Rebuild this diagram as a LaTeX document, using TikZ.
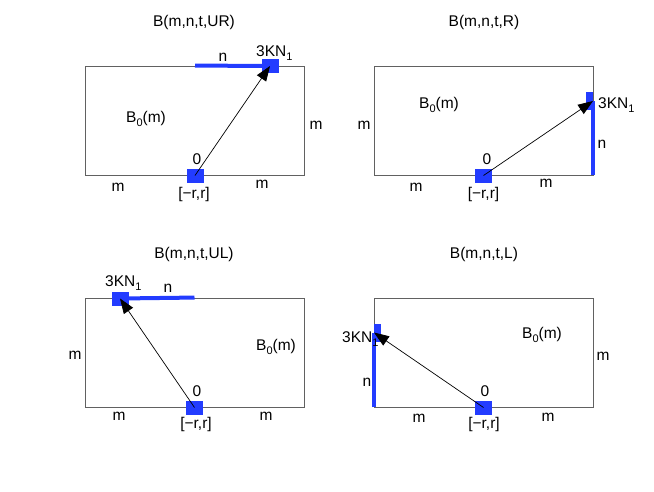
\documentclass[tikz,border=0pt]{standalone}
\usepackage{fontspec}
\setmainfont{Liberation Sans}
\usetikzlibrary{arrows.meta}
\definecolor{mblue}{RGB}{35,60,255}
\newcommand\sbs[1]{\raisebox{-4.5pt}{\fontsize{11}{12}\selectfont #1}}
\tikzset{
  frame/.style={draw=black!62, line width=0.9pt, fill=none, inner sep=0pt,
    minimum width=219pt, minimum height=109pt, rectangle},
  bsq/.style={fill=mblue, draw=none, inner sep=0pt, rectangle,
    minimum width=17pt, minimum height=14pt},
  hsq/.style={fill=mblue, draw=none, inner sep=0pt, rectangle,
    minimum width=7pt, minimum height=18pt},
  bar/.style={draw=mblue, line width=4pt},
  arr/.style={draw=black, line width=0.7pt, -{Triangle[length=15pt,width=11pt]}},
  lbl/.style={inner sep=0pt, anchor=base, font=\fontsize{15.5}{18}\selectfont},
  lbll/.style={lbl, anchor=base west},
}
\begin{document}
\begin{tikzpicture}[x=1pt,y=-1pt]
\path[use as bounding box] (0,0) rectangle (654,491);

% ---------- Panel 1: UR ----------
\node[frame] (f1) at (194.5,120.5) {};
\node[bsq] (s1) at (195,175.5) {};
\node[bsq] (t1) at (270,66) {};
\draw[bar] (s1 |- f1.north) -- (t1.center);
\node[bsq] at (t1.center) {};
\draw[arr] (s1.center) -- (t1.center);
\node[lbl] (ti1) at (194,26.5) {B(m,n,t,UR)};
\node[lbl] (n1) at (223,61) {n};
\node[lbll] (k1) at (256,56) {3KN\sbs{1}};
\node[lbll] (b1) at (126,122) {B\sbs{0}(m)};
\node[lbl] (mr1) at (316,129) {m};
\node[lbl] (z1) at (197,164) {0};
\node[lbl] (r1) at (194,198.5) {[−r,r]};
\node[lbl] (ml1) at (118,191) {m};
\node[lbl] (mb1) at (262,188.5) {m};

% ---------- Panel 2: R ----------
\node[frame] (f2) at (483.5,120.5) {};
\node[bsq] (s2) at (483.5,175.5) {};
\node[hsq, anchor=east] (t2) at (593,101) {};
\draw[bar] (f2.south east) -- (f2.south east |- t2.center);
\node[hsq, anchor=east] at (593,101) {};
\draw[arr] (s2.center) -- (t2.east);
\node[lbl] (ti2) at (484,26.5) {B(m,n,t,R)};
\node[lbll] (b2) at (419,108) {B\sbs{0}(m)};
\node[lbl] (ml2) at (364,129) {m};
\node[lbll] (k2) at (598,108) {3KN\sbs{1}};
\node[lbl] (n2) at (602,148) {n};
\node[lbl] (z2) at (487,164) {0};
\node[lbl] (r2) at (483.5,198.5) {[−r,r]};
\node[lbl] (mbl2) at (416,191) {m};
\node[lbl] (mbr2) at (546,187) {m};

% ---------- Panel 3: UL ----------
\node[frame] (f3) at (194.5,352.5) {};
\node[bsq] (s3) at (194.5,407.5) {};
\node[bsq] (t3) at (120,298.5) {};
\draw[bar] (t3.center) -- (s3 |- f3.north);
\node[bsq] at (t3.center) {};
\draw[arr] (s3.center) -- (t3.center);
\node[lbl] (ti3) at (194,258.5) {B(m,n,t,UL)};
\node[lbll] (k3) at (105,286) {3KN\sbs{1}};
\node[lbl] (n3) at (168,292) {n};
\node[lbll] (b3) at (256,350) {B\sbs{0}(m)};
\node[lbl] (ml3) at (75,359) {m};
\node[lbl] (z3) at (197,396) {0};
\node[lbl] (r3) at (196,428) {[−r,r]};
\node[lbl] (mbl3) at (119,420) {m};
\node[lbl] (mbr3) at (266,420) {m};

% ---------- Panel 4: L ----------
\node[frame] (f4) at (483.5,352.5) {};
\node[bsq] (s4) at (483.5,407.5) {};
\node[hsq, anchor=west] (t4) at (374,332.5) {};
\draw[bar] (f4.south west) -- (f4.south west |- t4.center);
\node[hsq, anchor=west] at (374,332.5) {};
\draw[arr] (s4.center) -- (t4.west);
\node[lbl] (ti4) at (484,258.5) {B(m,n,t,L)};
\node[lbll] (k4) at (342,342) {3KN\sbs{1}};
\node[lbl] (n4) at (367,386) {n};
\node[lbll] (b4) at (522,338) {B\sbs{0}(m)};
\node[lbl] (mr4) at (603,360) {m};
\node[lbl] (z4) at (485,396) {0};
\node[lbl] (r4) at (484,428) {[−r,r]};
\node[lbl] (mbl4) at (419,422) {m};
\node[lbl] (mbr4) at (548,421) {m};
\end{tikzpicture}
\end{document}
